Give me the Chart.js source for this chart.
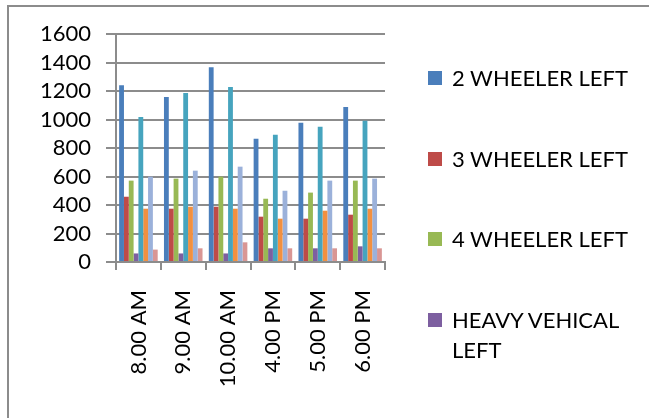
<!DOCTYPE html>
<html>
<head>
<meta charset="utf-8">
<script src="https://cdn.jsdelivr.net/npm/chart.js@4"></script>
<style>
  body { margin: 0; background: #fff; }
  #wrap { position: relative; width: 649px; height: 418px; }
  #frame { position: absolute; left: 7px; top: 5px; right: 0; bottom: 0; border-left: 2px solid #8c8c8c; border-top: 2px solid #8c8c8c; }
  #legend { position: absolute; left: 428px; top: 66px; font-family: Lato, "Open Sans", sans-serif; font-size: 22px; color: #000; }
  .item { display: flex; align-items: flex-start; height: 80.5px; }
  .box { width: 14px; height: 14px; margin-top: 5px; margin-right: 10px; flex: none; }
  .txt { width: 190px; line-height: 30px; margin-top: -3px; }
</style>
</head>
<body>
<div id="wrap">
  <div id="frame"></div>
  <canvas id="chart" width="649" height="418"></canvas>
  <div id="legend"></div>
</div>
<script>
// categories
var times = ['8.00 AM', '9.00 AM', '10.00 AM', '4.00 PM', '5.00 PM', '6.00 PM'];

// series values
var twoWheelerLeft   = [1240, 1158, 1366, 865, 978, 1088];
var threeWheelerLeft = [458, 374, 388, 318, 304, 332];
var fourWheelerLeft  = [571, 585, 599, 444, 487, 571];
var heavyLeft        = [60, 60, 60, 96, 96, 110];
var twoWheelerRight   = [1017, 1186, 1228, 893, 950, 992];
var threeWheelerRight = [374, 388, 374, 304, 360, 374];
var fourWheelerRight  = [599, 641, 669, 500, 571, 585];
var heavyRight        = [87, 96, 138, 96, 96, 96];

var yTicks = [0, 200, 400, 600, 800, 1000, 1200, 1400, 1600];

// only the first four are visible in the legend of the original
var series = [
    {label: '2 WHEELER LEFT', data: twoWheelerLeft, color: '#4a7ebb', legend: true},
    {label: '3 WHEELER LEFT', data: threeWheelerLeft, color: '#be4b48', legend: true},
    {label: '4 WHEELER LEFT', data: fourWheelerLeft, color: '#98b954', legend: true},
    {label: 'HEAVY VEHICAL LEFT', data: heavyLeft, color: '#7d5fa0', legend: true},
    {label: '2 WHEELER RIGHT', data: twoWheelerRight, color: '#46a4be', legend: false},
    {label: '3 WHEELER RIGHT', data: threeWheelerRight, color: '#f29040', legend: false},
    {label: '4 WHEELER RIGHT', data: fourWheelerRight, color: '#9bb1da', legend: false},
    {label: 'HEAVY VEHICAL RIGHT', data: heavyRight, color: '#d99694', legend: false}
];

var font = {family: 'Lato, "Open Sans", sans-serif', size: 22};

var config = {
    type: 'bar',
    data: {
        labels: times,
        datasets: series.map(function (s) {
            return {
                label: s.label,
                data: s.data,
                backgroundColor: s.color,
                borderWidth: 0,
                categoryPercentage: 0.86,
                barPercentage: 1
            };
        })
    },
    options: {
        responsive: false,
        animation: false,
        layout: {
            padding: {top: 34, right: 264, left: 0, bottom: 0}
        },
        plugins: {
            legend: {display: false},
            tooltip: {enabled: false}
        },
        scales: {
            x: {
                grid: {
                    display: true,
                    offset: true,
                    drawOnChartArea: false,
                    color: '#8c8c8c',
                    lineWidth: 2,
                    tickLength: 8
                },
                border: {color: '#8c8c8c', width: 2},
                ticks: {
                    color: '#000',
                    font: font,
                    autoSkip: false,
                    minRotation: 90,
                    maxRotation: 90,
                    padding: 20
                },
                afterFit: function (scale) { scale.height = 156; }
            },
            y: {
                min: 0,
                max: 1600,
                afterBuildTicks: function (scale) {
                    scale.ticks = yTicks.map(function (v) { return {value: v}; });
                },
                grid: {
                    color: '#8c8c8c',
                    lineWidth: 2,
                    tickLength: 10
                },
                border: {color: '#8c8c8c', width: 2},
                ticks: {
                    color: '#000',
                    font: font,
                    autoSkip: false,
                    padding: 15,
                    callback: function (v) { return String(v); }
                },
                afterFit: function (scale) { scale.width = 116; }
            }
        }
    }
};

var ctx = document.getElementById('chart').getContext('2d');
window.trafficChart = new Chart(ctx, config);

// html legend, wraps like the original
var legend = document.getElementById('legend');
series.filter(function (s) { return s.legend; }).forEach(function (s) {
    var item = document.createElement('div');
    item.className = 'item';
    item.innerHTML = "<div class='box' style='background:" + s.color + "'></div><div class='txt'>" + s.label + "</div>";
    legend.appendChild(item);
});
</script>
</body>
</html>
